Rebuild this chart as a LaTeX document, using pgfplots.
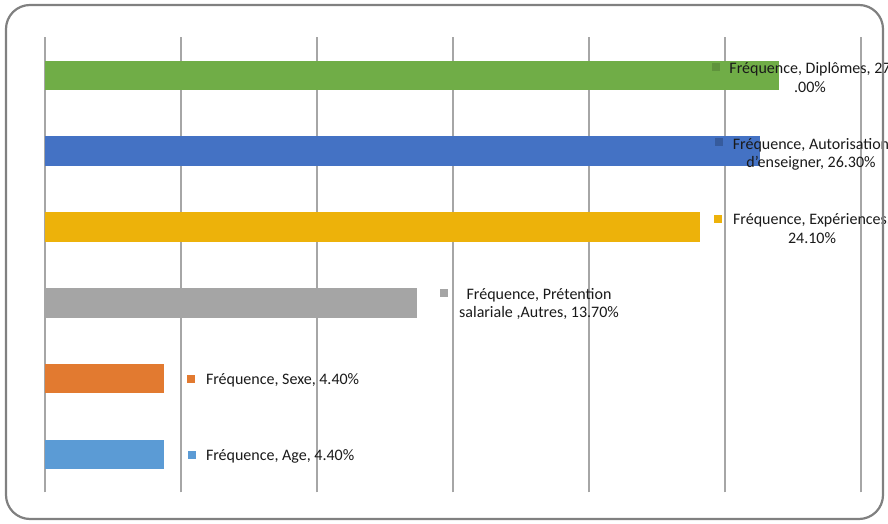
\documentclass[border=0pt]{standalone}
\usepackage{pgfplots}
\pgfplotsset{compat=1.18}
\usepackage{fontspec}
\setmainfont{Carlito}
\definecolor{cGreen}{HTML}{70AD47}
\definecolor{cBlue}{HTML}{4472C4}
\definecolor{cGold}{HTML}{EDB20A}
\definecolor{cGray}{HTML}{A5A5A5}
\definecolor{cOrange}{HTML}{E27A30}
\definecolor{cLBlue}{HTML}{5B9BD5}
\definecolor{gridc}{HTML}{A6A6A6}
\definecolor{framec}{HTML}{808080}
\definecolor{txt}{HTML}{1A1A1A}
\begin{document}
\begin{tikzpicture}[x=1pt,y=1pt]
\useasboundingbox (0,0) rectangle (888,524);
\fill[white] (0,0) rectangle (888,524);
\begin{scope}
\clip (0,0) rectangle (888,524);
\begin{axis}[
  at={(44.5pt,31.5pt)}, anchor=south west,
  scale only axis, width=816.5pt, height=455pt,
  xmin=0, xmax=30, ymin=-0.5, ymax=5.5,
  xbar, bar width=29.5pt, bar shift=0pt,
  xtick={0,5,...,30}, ytick=\empty,
  xticklabels={}, xmajorgrids,
  grid style={line width=2pt, color=gridc},
  axis line style={draw=none},
  major tick length=0pt,
]
\addplot[fill=cLBlue, draw=none] coordinates {(4.4,0)};
\addplot[fill=cOrange, draw=none] coordinates {(4.4,1)};
\addplot[fill=cGray, draw=none] coordinates {(13.7,2)};
\addplot[fill=cGold, draw=none] coordinates {(24.1,3)};
\addplot[fill=cBlue, draw=none] coordinates {(26.3,4)};
\addplot[fill=cGreen, draw=none] coordinates {(27.0,5)};
\end{axis}
\begin{scope}[every node/.style={font=\fontsize{16}{19}\selectfont, text=txt, inner sep=0pt, outer sep=0pt}]
% Age
\node[anchor=west] at (188,524-455) {\textcolor{cLBlue}{\rule{8pt}{8pt}}};
\node[anchor=base west] at (206,524-460.5) {Fréquence, Age, 4.40\%};
% Sexe
\node[anchor=west] at (187,524-379) {\textcolor{cOrange}{\rule{8pt}{8pt}}};
\node[anchor=base west] at (206,524-384.5) {Fréquence, Sexe, 4.40\%};
% Pretention
\node[anchor=west] at (440,524-293) {\textcolor{cGray}{\rule{8pt}{8pt}}};
\node[anchor=base] at (539,524-300) {Fréquence, Prétention};
\node[anchor=base] at (539,524-318) {salariale ,Autres, 13.70\%};
% Experiences
\node[anchor=west] at (714,524-219) {\textcolor{cGold}{\rule{8pt}{8pt}}};
\node[anchor=base] at (812,524-225) {Fréquence, Expériences,};
\node[anchor=base] at (812,524-244) {24.10\%};
% Autorisation
\node[anchor=west] at (715,524-142) {\textcolor{cBlue!80!black}{\rule{8pt}{8pt}}};
\node[anchor=base] at (811,524-149.3) {Fréquence, Autorisation};
\node[anchor=base] at (811,524-168) {d'enseigner, 26.30\%};
% Diplomes
\node[anchor=west] at (712,524-67) {\textcolor{cGreen!85!black}{\rule{8pt}{8pt}}};
\node[anchor=base] at (810,524-73.3) {Fréquence, Diplômes, 27};
\node[anchor=base] at (810,524-92.3) {.00\%};
\end{scope}
\draw[rounded corners=24pt, line width=2.2pt, framec] (6,5) rectangle (883,519);
\end{scope}
\end{tikzpicture}
\end{document}
